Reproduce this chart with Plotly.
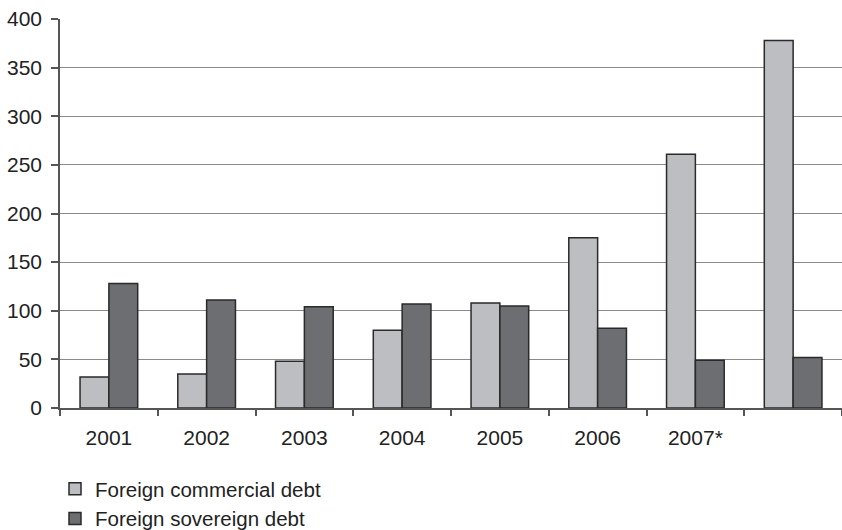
import plotly.graph_objects as go

categories = ["2001", "2002", "2003", "2004", "2005", "2006", "2007*", " "]
commercial = [32, 35, 48, 80, 108, 175, 261, 378]
sovereign = [128, 111, 104, 107, 105, 82, 49, 52]

fig = go.Figure()
fig.add_trace(go.Bar(x=categories, y=commercial, name="Foreign commercial debt",
                     marker=dict(color="#bdbec2", line=dict(color="#2a2a2a", width=1.5))))
fig.add_trace(go.Bar(x=categories, y=sovereign, name="Foreign sovereign debt",
                     marker=dict(color="#6d6e71", line=dict(color="#2a2a2a", width=1.5))))

fig.update_layout(
    width=842, height=530,
    margin=dict(l=60, r=0, t=19, b=122, autoexpand=False),
    plot_bgcolor="white", paper_bgcolor="white",
    barmode="group", bargap=0.41, bargroupgap=0,
    font=dict(family="Liberation Sans, Arial, sans-serif", size=21, color="#222"),
    showlegend=True,
    legend=dict(orientation="v", x=-5/782, xanchor="left",
                y=(408 - 469) / 389, yanchor="top",
                font=dict(size=20.5), bgcolor="rgba(0,0,0,0)", traceorder="normal"),
    xaxis=dict(type="category", showline=True, linecolor="#555", linewidth=1.5,
               ticks="outside", tickson="boundaries", ticklen=6, tickcolor="#555",
               tickwidth=1.5, showgrid=False, tickfont=dict(size=21),
               ticklabelstandoff=10, automargin=False),
    yaxis=dict(range=[0, 400], dtick=50, showline=True, linecolor="#555", linewidth=1.5,
               ticks="outside", ticklen=7, tickcolor="#555", tickwidth=1.5,
               showgrid=True, gridcolor="#8a8a8a", gridwidth=1, zeroline=False,
               tickfont=dict(size=21), ticklabelstandoff=5, automargin=False),
)

fig.write_html("out.html")
